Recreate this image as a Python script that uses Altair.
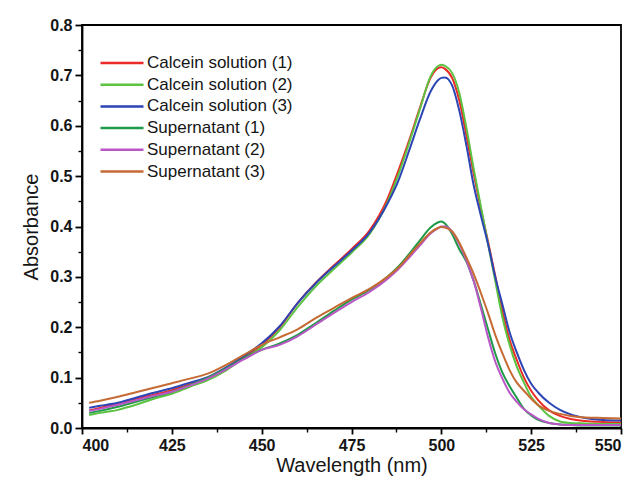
import altair as alt
import pandas as pd

wavelength = [402, 405, 410, 415, 420, 425, 430, 435, 440, 445, 450, 455, 460, 465, 470, 475,
              480, 485, 488, 491, 494, 497, 499, 500, 501, 503, 505, 507, 509, 511, 513, 515,
              517, 519, 521, 523, 525, 527, 530, 533, 536, 540, 545, 550]

calcein_1 = [0.035, 0.040, 0.048, 0.058, 0.066, 0.075, 0.087, 0.100, 0.118, 0.140, 0.165, 0.200,
             0.248, 0.288, 0.322, 0.355, 0.392, 0.455, 0.510, 0.570, 0.635, 0.695, 0.714, 0.716,
             0.713, 0.695, 0.650, 0.580, 0.505, 0.435, 0.370, 0.302, 0.232, 0.175, 0.135, 0.100,
             0.074, 0.055, 0.035, 0.024, 0.018, 0.014, 0.012, 0.011]
calcein_2 = [0.026, 0.030, 0.036, 0.046, 0.058, 0.068, 0.082, 0.095, 0.114, 0.138, 0.160, 0.194,
             0.240, 0.281, 0.315, 0.348, 0.385, 0.448, 0.502, 0.565, 0.632, 0.698, 0.718, 0.721,
             0.719, 0.705, 0.665, 0.595, 0.515, 0.440, 0.365, 0.292, 0.220, 0.165, 0.122, 0.090,
             0.062, 0.045, 0.024, 0.013, 0.010, 0.009, 0.008, 0.008]
calcein_3 = [0.040, 0.044, 0.050, 0.060, 0.070, 0.079, 0.090, 0.101, 0.120, 0.143, 0.168, 0.202,
             0.248, 0.287, 0.320, 0.352, 0.388, 0.445, 0.490, 0.550, 0.612, 0.668, 0.690, 0.695,
             0.696, 0.680, 0.630, 0.560, 0.482, 0.422, 0.365, 0.300, 0.245, 0.190, 0.150, 0.115,
             0.088, 0.070, 0.050, 0.036, 0.027, 0.020, 0.016, 0.015]
supernatant_1 = [0.030, 0.034, 0.042, 0.052, 0.062, 0.072, 0.085, 0.100, 0.118, 0.138, 0.155, 0.168,
                 0.185, 0.208, 0.232, 0.255, 0.274, 0.300, 0.320, 0.345, 0.372, 0.398, 0.408, 0.410,
                 0.406, 0.385, 0.355, 0.330, 0.292, 0.245, 0.196, 0.148, 0.110, 0.083, 0.060, 0.038,
                 0.025, 0.016, 0.010, 0.007, 0.006, 0.005, 0.005, 0.005]
supernatant_2 = [0.034, 0.038, 0.046, 0.055, 0.064, 0.072, 0.084, 0.098, 0.116, 0.136, 0.155, 0.165,
                 0.182, 0.205, 0.228, 0.250, 0.270, 0.296, 0.315, 0.338, 0.362, 0.386, 0.396, 0.400,
                 0.400, 0.390, 0.365, 0.332, 0.292, 0.238, 0.180, 0.132, 0.098, 0.070, 0.052, 0.037,
                 0.027, 0.018, 0.010, 0.007, 0.006, 0.006, 0.006, 0.006]
supernatant_3 = [0.050, 0.054, 0.062, 0.071, 0.080, 0.089, 0.098, 0.108, 0.125, 0.145, 0.165, 0.180,
                 0.196, 0.218, 0.238, 0.258, 0.276, 0.300, 0.318, 0.342, 0.366, 0.388, 0.397, 0.399,
                 0.398, 0.390, 0.368, 0.338, 0.306, 0.268, 0.228, 0.185, 0.148, 0.115, 0.090, 0.074,
                 0.058, 0.045, 0.034, 0.028, 0.024, 0.021, 0.020, 0.019]

series_names = ["Calcein solution (1)", "Calcein solution (2)", "Calcein solution (3)",
                "Supernatant (1)", "Supernatant (2)", "Supernatant (3)"]
series_values = [calcein_1, calcein_2, calcein_3, supernatant_1, supernatant_2, supernatant_3]
series_colors = ["#ec2a26", "#5cc241", "#2d45b4", "#1f9a48", "#b957c6", "#c66a34"]

x_major = [400, 425, 450, 475, 500, 525, 550]
x_minor = [412.5, 437.5, 462.5, 487.5, 512.5, 537.5]
y_major = [0.0, 0.1, 0.2, 0.3, 0.4, 0.5, 0.6, 0.7, 0.8]
y_minor = [0.05, 0.15, 0.25, 0.35, 0.45, 0.55, 0.65, 0.75]

rows = []
for name, vals in zip(series_names, series_values):
    for w, v in zip(wavelength, vals):
        rows.append({"series": name, "wavelength": w, "absorbance": v})
df = pd.DataFrame(rows)

FONT = "Liberation Sans"
TXT = "#151515"

x_scale = alt.Scale(domain=[400, 550], nice=False, zero=False)
y_scale = alt.Scale(domain=[0, 0.8], nice=False)

lines = alt.Chart(df).mark_line(strokeWidth=2, interpolate="monotone").encode(
    x=alt.X("wavelength:Q", scale=x_scale,
            axis=alt.Axis(title="Wavelength (nm)", values=x_major, format="d",
                          tickSize=6, tickWidth=1.8, domainWidth=1.8, labelFontWeight="bold",
                          labelFontSize=16, titleFontSize=20, titleFontWeight="normal",
                          labelPadding=3, titlePadding=2, grid=False,
                          domainColor="black", tickColor="black", labelColor=TXT,
                          titleColor=TXT, labelFont=FONT, titleFont=FONT, orient="bottom")),
    y=alt.Y("absorbance:Q", scale=y_scale,
            axis=alt.Axis(title="Absorbance", values=y_major, format=".1f",
                          tickSize=7, tickWidth=1.8, domainWidth=1.8, labelFontWeight="bold",
                          labelFontSize=16, titleFontSize=20, titleFontWeight="normal",
                          labelPadding=3, titlePadding=8, grid=False,
                          domainColor="black", tickColor="black", labelColor=TXT,
                          titleColor=TXT, labelFont=FONT, titleFont=FONT, orient="left")),
    color=alt.Color("series:N", scale=alt.Scale(domain=series_names, range=series_colors),
                    sort=series_names,
                    legend=alt.Legend(title=None, orient="none", legendX=17, legendY=28,
                                      symbolType="stroke", symbolSize=1850, symbolStrokeWidth=2.5,
                                      clipHeight=20, rowPadding=1.7,
                                      labelFontSize=17, labelFont=FONT, labelColor=TXT,
                                      labelOffset=2)),
    detail="series:N",
)

minor = alt.Chart(df).mark_line(opacity=0).encode(
    x=alt.X("wavelength:Q", scale=x_scale,
            axis=alt.Axis(title=None, values=x_minor, labels=False, tickSize=4, tickWidth=1.4,
                          domain=False, grid=False, tickColor="black", orient="bottom")),
    y=alt.Y("absorbance:Q", scale=y_scale,
            axis=alt.Axis(title=None, values=y_minor, labels=False, tickSize=4, tickWidth=1.4,
                          domain=False, grid=False, tickColor="black", orient="left")),
    detail="series:N",
)

chart = alt.layer(lines, minor).resolve_axis(x="independent", y="independent").properties(
    width=539, height=403,
    autosize=alt.AutoSizeParams(type="none"),
    padding={"left": 74, "top": 17, "right": 9, "bottom": 52},
).configure_view(stroke="black", strokeWidth=1.8)

chart.save("out.html", embed_options={"renderer": "svg", "actions": False})
